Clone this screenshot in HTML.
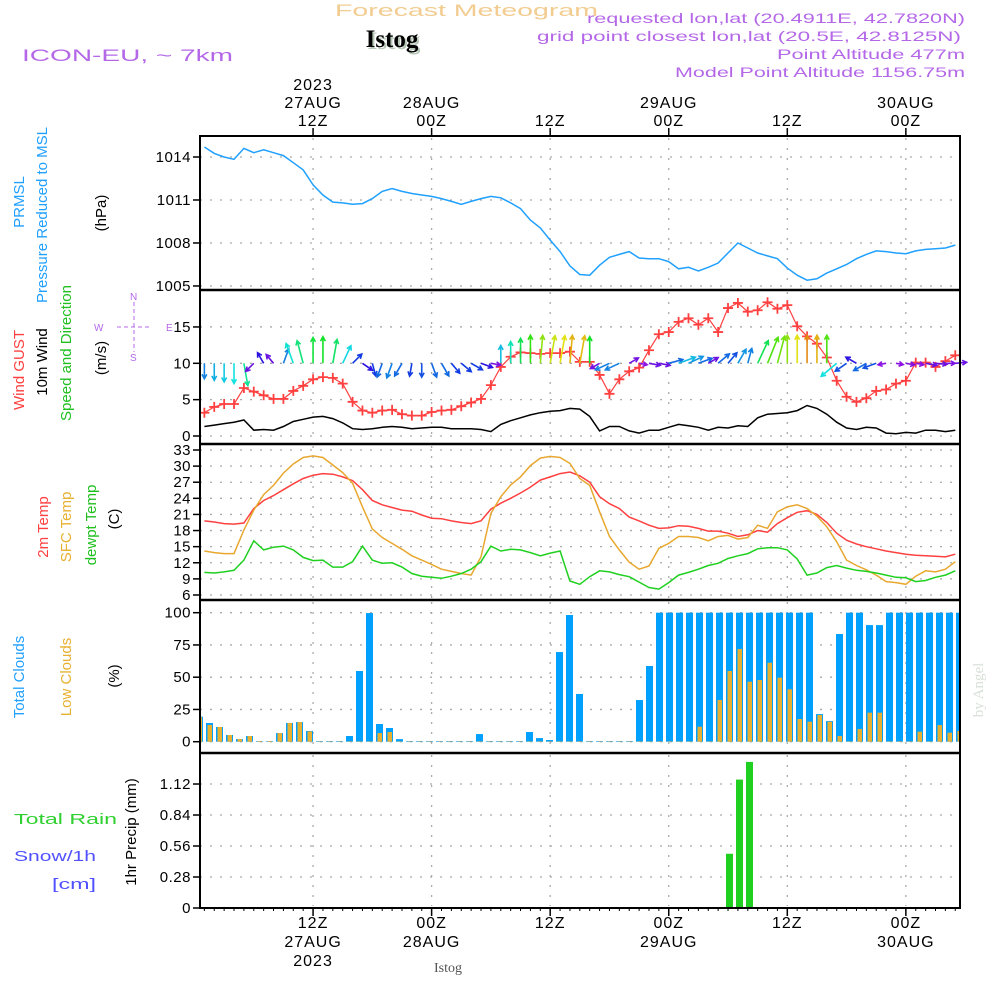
<!DOCTYPE html>
<html><head><meta charset="utf-8"><style>
html,body{margin:0;padding:0;background:#fff;}
svg{display:block;font-family:"Liberation Sans",sans-serif;}
</style></head><body>
<svg id="chart" width="1000" height="1000" viewBox="0 0 1000 1000" xmlns="http://www.w3.org/2000/svg">
<rect x="0" y="0" width="1000" height="1000" fill="#fff"/>
<text x="335" y="16" textLength="263" lengthAdjust="spacingAndGlyphs" font-size="17" fill="#f2cc90">Forecast Meteogram</text>
<text x="394" y="49" text-anchor="middle" font-size="25" font-weight="bold" font-family="Liberation Serif, serif" fill="#b8c8b8">Istog</text>
<text x="392" y="47" text-anchor="middle" font-size="25" font-weight="bold" font-family="Liberation Serif, serif" fill="#000">Istog</text>
<text x="22" y="61" textLength="211" lengthAdjust="spacingAndGlyphs" font-size="17" fill="#b468e8">ICON-EU, ~ 7km</text>
<g font-size="14" fill="#b468e8">
<text x="587" y="23" textLength="378" lengthAdjust="spacingAndGlyphs">requested lon,lat (20.4911E, 42.7820N)</text>
<text x="537" y="41" textLength="424" lengthAdjust="spacingAndGlyphs">grid point closest lon,lat (20.5E, 42.8125N)</text>
<text x="777" y="59" textLength="188" lengthAdjust="spacingAndGlyphs">Point Altitude 477m</text>
<text x="675" y="77" textLength="290" lengthAdjust="spacingAndGlyphs">Model Point Altitude 1156.75m</text>
</g>
<g id="leftlabels" font-size="15">
<text transform="translate(24,202) rotate(-90)" text-anchor="middle" fill="#20a0ff">PRMSL</text>
<text transform="translate(47,215) rotate(-90)" text-anchor="middle" fill="#20a0ff">Pressure Reduced to MSL</text>
<text transform="translate(106,213) rotate(-90)" text-anchor="middle" fill="#000">(hPa)</text>
<text transform="translate(24,370) rotate(-90)" text-anchor="middle" fill="#ff4040">Wind GUST</text>
<text transform="translate(47,362) rotate(-90)" text-anchor="middle" fill="#000">10m Wind</text>
<text transform="translate(71,353) rotate(-90)" text-anchor="middle" fill="#20c020">Speed and Direction</text>
<text transform="translate(106,358) rotate(-90)" text-anchor="middle" fill="#000">(m/s)</text>
<text transform="translate(48,527) rotate(-90)" text-anchor="middle" fill="#ff4040">2m Temp</text>
<text transform="translate(71,527) rotate(-90)" text-anchor="middle" fill="#e8b030">SFC Temp</text>
<text transform="translate(96,525) rotate(-90)" text-anchor="middle" fill="#20c020">dewpt Temp</text>
<text transform="translate(119,519) rotate(-90)" text-anchor="middle" fill="#000">(C)</text>
<text transform="translate(24,677) rotate(-90)" text-anchor="middle" fill="#20a0ff">Total Clouds</text>
<text transform="translate(71,677) rotate(-90)" text-anchor="middle" fill="#e8b030">Low Clouds</text>
<text transform="translate(119,676) rotate(-90)" text-anchor="middle" fill="#000">(%)</text>
<text x="14" y="824" textLength="103" lengthAdjust="spacingAndGlyphs" fill="#30d030">Total   Rain</text>
<text x="14" y="861" textLength="82" lengthAdjust="spacingAndGlyphs" fill="#5050ff">Snow/1h</text>
<text x="52" y="889" textLength="44" lengthAdjust="spacingAndGlyphs" fill="#5050ff">[cm]</text>
<text transform="translate(136,832) rotate(-90)" text-anchor="middle" fill="#000">1hr Precip (mm)</text>
</g>
<g id="compass" fill="#b468e8" stroke="#b468e8" font-size="10">
<line x1="117" y1="327" x2="150" y2="327" stroke-dasharray="4,3"/>
<line x1="134" y1="302" x2="134" y2="352" stroke-dasharray="4,3"/>
<text x="94" y="331" stroke="none">W</text>
<text x="166" y="331" stroke="none">E</text>
<text x="130" y="300" stroke="none">N</text>
<text x="130" y="361" stroke="none">S</text>
</g>
<text transform="translate(983,690) rotate(-90)" text-anchor="middle" font-size="15" font-family="Liberation Serif, serif" fill="#d8e0d8">by Angel</text>
<text x="448" y="972" text-anchor="middle" font-size="14" font-family="Liberation Serif, serif" fill="#555">Istog</text>
<g id="grid"></g>
<g id="marks"></g>
<g id="axes"></g>
</svg>
<script>
// ---- data (hourly, h = hours since 27AUG 00Z) ----
const pressure = [1014.7,1014.25,1014.0,1013.84,1014.6,1014.3,1014.5,1014.3,1014.1,1013.6,1013.1,1012.05,1011.35,1010.85,1010.8,1010.7,1010.75,1011.1,1011.6,1011.8,1011.6,1011.45,1011.35,1011.25,1011.1,1010.9,1010.7,1010.9,1011.1,1011.25,1011.15,1010.8,1010.4,1009.6,1009.05,1008.2,1007.4,1006.4,1005.8,
1005.75,1006.45,1007.0,1007.2,1007.4,1006.95,1006.9,1006.9,1006.7,1006.2,1006.3,1006.05,1006.3,1006.6,1007.3,1008.0,1007.65,1007.3,1007.1,1006.9,1006.25,1005.75,1005.4,1005.5,1005.9,1006.2,1006.5,1006.9,1007.2,1007.45,1007.4,1007.3,1007.25,1007.45,1007.55,1007.6,1007.65,1007.85];
const gust = [3.2,4.0,4.4,4.4,6.6,6.1,5.6,5.1,5.1,6.2,6.9,7.8,8.1,8.0,7.2,4.7,3.5,3.2,3.5,3.6,3.0,2.8,2.8,3.3,3.5,3.6,4.1,4.6,5.1,7.0,9.5,10.9,11.5,11.4,11.3,11.4,11.4,11.6,10.2,10.2,
8.4,5.8,7.8,8.9,9.4,11.8,14.0,14.3,15.7,16.2,15.3,16.2,14.3,17.6,18.3,17.1,17.3,18.4,17.5,18.0,15.1,13.7,12.7,10.8,7.6,5.4,4.7,5.2,6.2,6.4,7.2,7.6,10.1,10.1,9.5,10.3,11.1];
const windSpeed = [1.3,1.5,1.7,1.9,2.2,0.8,0.9,0.8,1.3,2.0,2.3,2.6,2.7,2.4,1.8,1.0,0.9,1.0,1.2,1.3,1.2,1.0,1.1,1.2,1.2,1.0,1.0,1.0,0.9,0.6,
1.6,2.1,2.5,2.9,3.2,3.4,3.5,3.8,3.7,2.7,0.7,1.3,1.3,0.7,0.4,0.8,0.8,1.2,1.6,1.4,1.2,0.8,1.2,1.1,1.4,1.3,2.5,3.0,3.1,3.2,3.5,4.2,3.8,3.0,1.9,1.1,0.9,1.2,1.1,0.4,0.3,0.5,0.4,0.8,0.8,0.6,0.8];
const windDir = [180,180,180,180,170,225,330,320,20,340,345,0,0,10,25,45,125,165,200,200,210,190,180,160,150,140,130,120,110,100,
0,0,0,0,5,10,10,5,10,0,240,245,245,60,100,100,100,75,70,65,70,60,50,40,30,15,25,22,15,0,0,0,0,0,230,235,300,240,250,260,100,100,100,100,95,90,85];
const temp2m = [19.8,19.6,19.3,19.2,19.4,22.1,23.6,24.5,25.6,26.7,27.7,28.3,28.6,28.5,28.0,27.3,25.6,23.6,22.8,22.3,21.8,21.6,20.9,20.3,20.2,19.8,19.5,19.3,19.8,22.0,23.1,24.0,25.0,26.1,27.4,28.0,28.6,28.9,28.2,
27.0,24.3,23.0,22.1,20.5,19.8,19.0,18.4,18.5,18.9,18.8,18.4,17.9,17.9,17.5,16.9,17.2,18.0,17.7,19.3,20.4,21.4,21.7,21.0,19.5,17.5,16.2,15.5,15.0,14.6,14.2,13.9,13.6,13.4,13.3,13.2,13.1,13.6];
const tempSfc = [14.2,13.9,13.7,13.7,18.1,21.8,24.7,26.4,28.7,30.4,31.6,31.9,31.6,30.2,28.8,26.8,22.4,18.3,16.7,15.6,14.5,13.3,12.5,11.7,10.8,10.4,10.0,9.7,13.1,21.2,24.3,26.5,28.0,30.1,31.5,31.8,31.6,30.5,27.7,
26.4,21.5,16.9,14.4,12.1,10.8,11.4,14.7,15.6,16.9,16.9,16.7,16.1,16.9,17.1,16.4,16.7,19.0,18.4,21.5,22.4,22.8,22.1,20.7,18.7,15.9,12.5,11.5,10.7,9.7,8.5,8.3,8.0,9.5,10.5,10.3,10.8,12.2];
const dewpt = [10.2,10.1,10.3,10.6,12.5,16.1,14.4,14.9,15.1,14.4,13.0,12.4,12.5,11.2,11.2,12.2,15.1,12.5,11.9,12.0,11.2,10.0,9.5,9.3,9.1,9.5,10.0,10.8,12.2,15.1,14.2,14.5,14.4,13.9,13.3,13.8,14.2,8.6,8.0,
9.4,10.5,10.3,9.8,9.4,8.4,7.4,7.1,8.3,9.7,10.2,10.8,11.5,11.9,12.8,13.3,13.7,14.6,14.8,14.8,14.4,12.7,9.7,10.1,11.1,11.5,11.0,10.6,10.4,10.1,9.7,9.3,9.2,8.5,8.7,9.3,9.7,10.5];
// cloud bars, k = bar index
const totalClouds = [19.4,14.5,11.4,5.2,2,4.4,0.5,0.5,6.7,14.5,15.2,8.3,0.5,0.5,0.5,4.4,54.8,99.7,13.7,10.6,2,
0.5,0.5,0.5,0.5,0.5,0.5,0.5,5.9,0.5,0.5,0.5,0.5,7.5,2.8,1.3,69.5,98.2,37,0.5,0.5,0.5,0.5,0.5,32.3,58.7,
100,100,100,100,100,100,100,100,100,100,100,100,100,100,100,100,21.4,16,83.5,100,100,90.4,90.4,100,100,100,100,100,100,100,100];
const lowClouds = [19,13,11.4,5.2,2,4.4,0.5,0.5,6.7,14.5,15.2,8,0.3,0.3,0.3,0.3,0.3,0.3,6.7,7.5,
0.3,0.3,0.3,0.3,0.3,0.3,0.3,0.3,0.3,0.3,0.3,0.3,0.3,0.3,0.3,0.3,0.3,0.3,0.3,0.3,0.3,0.3,0.3,0.3,0.3,0.3,0.3,0.3,0.3,0.3,
11.6,0.3,32.3,54.8,71.8,46.5,47.8,61.2,49.6,40.6,17.6,15.5,20.7,15.5,4.4,0.3,9.8,22.5,22.5,0.3,0.3,0.3,7.8,0.3,12.9,7,8.3];
const precipIdx = [53,54,55];
const precipVals = [0.49,1.16,1.32];
const pressTicks = [1005,1008,1011,1014];
const windTicks = [0,5,10,15];
const tempTicks = [6,9,12,15,18,21,24,27,30,33];
const cloudTicks = [0,25,50,75,100];
const precipTicks = [0,0.28,0.56,0.84,1.12];
const precipTickLabels = ['0','0.28','0.56','0.84','1.12'];
const timeTickHours = [12,24,36,48,60,72];
const timeTop = [['2023','27AUG','12Z'],['28AUG','00Z'],['12Z'],['29AUG','00Z'],['12Z'],['30AUG','00Z']];
const timeBottom = [['12Z','27AUG','2023'],['00Z','28AUG'],['12Z'],['00Z','29AUG'],['12Z'],['00Z','30AUG']];

// ---- scales ----
const X0=200, X1=960;
const xScale = h => 194.5 + h*9.88;
const barX = k => 199.5 + k*10;
const yP = p => 157 + (1014-p)*14.33;
const yW = v => 436 - v*7.27;
const yT = t => 450 + (33-t)*5.37;
const yC = c => 741.7 - c*1.29;
const yR = r => 908 - r*110.7;
const NS='http://www.w3.org/2000/svg';
function mk(tag, attrs, parent){const e=document.createElementNS(NS,tag);for(const k in attrs)e.setAttribute(k,attrs[k]);parent.appendChild(e);return e;}
const grid=document.getElementById('grid'), marks=document.getElementById('marks'), axes=document.getElementById('axes');

const panels=[{t:136,b:290,ticks:pressTicks,y:yP,lab:v=>String(v),name:'pressure'},
 {t:290,b:444,ticks:windTicks,y:yW,lab:v=>String(v),name:'wind'},
 {t:444,b:600,ticks:tempTicks,y:yT,lab:v=>String(v),name:'temp'},
 {t:600,b:753,ticks:cloudTicks,y:yC,lab:v=>String(v),name:'cloud'},
 {t:753,b:908,ticks:precipTicks,y:yR,lab:(v,i)=>precipTickLabels[i],name:'precip'}];
panels.forEach(p=>{
  p.ticks.forEach((v,i)=>{
    const y=p.y(v);
    if(y>p.t+2 && y<p.b-2){
      const g=mk('line',{x1:X0,x2:X1,y1:y,y2:y,stroke:'#aaa','stroke-width':1.3,'stroke-dasharray':'2,8'},grid);
      
      
    }
    const tk=mk('line',{x1:X0-7,x2:X0,y1:y,y2:y,stroke:'#000','stroke-width':1.5},axes);
    
    
    const tl=mk('text',{x:X0-9,y:y+5,'text-anchor':'end','font-size':15,fill:'#000','letter-spacing':0.5},axes);
    tl.textContent=p.lab(v,i);
    
    
  });
  timeTickHours.forEach(h=>{
    const vl=mk('line',{x1:xScale(h),x2:xScale(h),y1:p.t+2,y2:p.b-2,stroke:'#aaa','stroke-width':1.3,'stroke-dasharray':'2,8'},grid);
    
    
  });
});
// frame
const fr=mk('rect',{x:X0,y:136,width:X1-X0,height:772,fill:'none',stroke:'#000','stroke-width':2},axes);


[290,444,600,753].forEach(y=>{
  const s=mk('line',{x1:X0,x2:X1,y1:y,y2:y,stroke:'#000','stroke-width':2.5},axes);
  
  
});
timeTickHours.forEach((h,i)=>{
  const x=xScale(h);
  const t1=mk('line',{x1:x,x2:x,y1:128,y2:136,stroke:'#000','stroke-width':1.5},axes);
  
  
  const t2=mk('line',{x1:x,x2:x,y1:908,y2:916,stroke:'#000','stroke-width':1.5},axes);
  
  
  const lines=timeTop[i];
  lines.forEach((s,j)=>{
    const tx=mk('text',{x:x,y:126-(lines.length-1-j)*18,'text-anchor':'middle','font-size':16,fill:'#000','letter-spacing':1},axes);
    tx.textContent=s;
    
    
  });
  timeBottom[i].forEach((s,j)=>{
    const tx=mk('text',{x:x,y:928+j*19,'text-anchor':'middle','font-size':16,fill:'#000','letter-spacing':1},axes);
    tx.textContent=s;
    
    
  });
});
// bottom minor hourly dashes
for(let h=1;h<=77;h++){
  const d=mk('line',{x1:xScale(h),x2:xScale(h),y1:908,y2:911,stroke:'#000','stroke-width':1},axes);
  
  
}
function linePath(arr,ys){return arr.map((v,i)=>(i?'L':'M')+xScale(i+1).toFixed(1)+','+ys(v).toFixed(1)).join('');}
// pressure
const pl=mk('path',{d:linePath(pressure,yP),fill:'none',stroke:'#20a0ff','stroke-width':1.5},marks);


// wind speed
const ws=mk('path',{d:linePath(windSpeed,yW),fill:'none',stroke:'#000','stroke-width':1.5},marks);


// gust
const gl=mk('path',{d:linePath(gust,yW),fill:'none',stroke:'#ff4040','stroke-width':1.2},marks);


gust.forEach((v,i)=>{
  const x=xScale(i+1),y=yW(v);
  const m=mk('path',{d:`M${x-5},${y}L${x+5},${y}M${x},${y-5}L${x},${y+5}`,stroke:'#ff4040','stroke-width':1.8},marks);
  
  
});
// wind arrows
const hueStops=[[0.4,275],[0.8,265],[1.0,228],[1.2,215],[1.5,195],[2.0,175],[2.3,150],[2.8,120],[3.3,75],[3.6,52],[4.2,35]];
function hueFor(s){if(s<=hueStops[0][0])return hueStops[0][1];for(let i=1;i<hueStops.length;i++){if(s<=hueStops[i][0]){const a=hueStops[i-1],b=hueStops[i];return a[1]+(b[1]-a[1])*(s-a[0])/(b[0]-a[0]);}}return 35;}
windDir.forEach((d,i)=>{
  const s=windSpeed[i];
  const L=Math.min(28,5+8*s);
  const x0=xScale(i+1),y0=yW(10);
  const r=d*Math.PI/180;
  const x1=x0+L*Math.sin(r),y1=y0-L*Math.cos(r);
  const a1=r+Math.PI-0.5,a2=r+Math.PI+0.5,h=5;
  const col=`hsl(${hueFor(s).toFixed(0)},85%,48%)`;
  const ar=mk('path',{d:`M${x0},${y0}L${x1},${y1}M${x1+h*Math.sin(a1)},${y1-h*Math.cos(a1)}L${x1},${y1}L${x1+h*Math.sin(a2)},${y1-h*Math.cos(a2)}`,fill:'none',stroke:col,'stroke-width':1.6},marks);
  
  
});
// temperatures
[[temp2m,'#ff4040','temp-2m-line'],[tempSfc,'#e8a830','sfc-temp-line'],[dewpt,'#20d020','dewpoint-line']].forEach(([arr,c,n])=>{
  const t=mk('path',{d:linePath(arr,yT),fill:'none',stroke:c,'stroke-width':1.5},marks);
  
  
});
// clouds
const cg=mk('g',{'clip-path':'url(#cclip)'},marks);
const defs=mk('defs',{},marks);
const cp=mk('clipPath',{id:'cclip'},defs);
mk('rect',{x:X0,y:600,width:X1-X0,height:153},cp);
totalClouds.forEach((v,k)=>{
  const x=barX(k);
  const b=mk('rect',{x:x-3.5,y:yC(v),width:7,height:yC(0)-yC(v),fill:'#00a0ff'},cg);
  
  
});
lowClouds.forEach((v,k)=>{
  const x=barX(k);
  const b=mk('rect',{x:x-2,y:yC(v),width:4.5,height:yC(0)-yC(v),fill:'#e8b030'},cg);
  
  
});
// precip
precipIdx.forEach((k,i)=>{
  const x=barX(k),v=precipVals[i];
  const b=mk('rect',{x:x-3.5,y:yR(v),width:7,height:yR(0)-yR(v),fill:'#20d020'},marks);
  
  
});
</script>
</body></html>
